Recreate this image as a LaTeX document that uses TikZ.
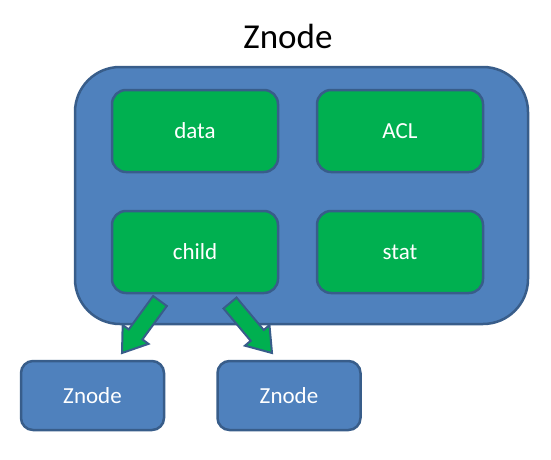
\documentclass[tikz,border=0pt]{standalone}
\usepackage{fontspec}
\setmainfont{Carlito}
\usetikzlibrary{calc}
\definecolor{boxblue}{HTML}{4F81BD}
\definecolor{edgeblue}{HTML}{385D8A}
\definecolor{fieldgreen}{HTML}{00B050}
\tikzset{
  outerbox/.style={draw=edgeblue, fill=boxblue, line width=2.5pt, rounded corners=45pt},
  fieldbox/.style={draw=edgeblue, fill=fieldgreen, line width=2.5pt, rounded corners=14pt,
    minimum width=166pt, minimum height=82pt, text=white, font=\fontsize{23}{27}\selectfont, inner sep=0pt},
  childbox/.style={draw=edgeblue, fill=boxblue, line width=2.5pt, rounded corners=12pt,
    minimum width=143pt, minimum height=69pt, text=white, font=\fontsize{23}{27}\selectfont, inner sep=0pt},
  blockarrow/.style={draw=edgeblue, fill=fieldgreen, line width=2pt, line join=miter},
  titletext/.style={font=\fontsize{35}{40}\selectfont, text=black}
}
\begin{document}
\begin{tikzpicture}[x=1pt,y=1pt]
\useasboundingbox (0,0) rectangle (551,-460);
\node[titletext] (title) at (288,-36) {Znode};
\draw[outerbox] (75,-67) rectangle (528,-324);
\node[fieldbox] (data) at (195,-131) {data};
\node[fieldbox] (acl) at (400,-131) {ACL};
\node[fieldbox] (child) at (195,-252) {child};
\node[fieldbox] (stat) at (400,-252) {stat};
\node[childbox] (z1) at (92.5,-395.5) {Znode};
\node[childbox] (z2) at (289,-395.5) {Znode};
% left block arrow
\coordinate (la-tail) at (160,-301);
\coordinate (la-tip) at (122,-353);
\coordinate (la-base) at ($(la-tip)!23pt!(la-tail)$);
\draw[blockarrow] ($(la-tail)!8.5pt!90:(la-tip)$) -- ($(la-base)!8.5pt!-90:(la-tail)$) -- ($(la-base)!16pt!-90:(la-tail)$) -- (la-tip) -- ($(la-base)!16pt!90:(la-tail)$) -- ($(la-base)!8.5pt!90:(la-tail)$) -- ($(la-tail)!8.5pt!-90:(la-tip)$) -- cycle;
% right block arrow
\coordinate (ra-tail) at (230,-303);
\coordinate (ra-tip) at (272,-353);
\coordinate (ra-base) at ($(ra-tip)!23pt!(ra-tail)$);
\draw[blockarrow] ($(ra-tail)!8.5pt!90:(ra-tip)$) -- ($(ra-base)!8.5pt!-90:(ra-tail)$) -- ($(ra-base)!16pt!-90:(ra-tail)$) -- (ra-tip) -- ($(ra-base)!16pt!90:(ra-tail)$) -- ($(ra-base)!8.5pt!90:(ra-tail)$) -- ($(ra-tail)!8.5pt!-90:(ra-tip)$) -- cycle;
\end{tikzpicture}
\end{document}
